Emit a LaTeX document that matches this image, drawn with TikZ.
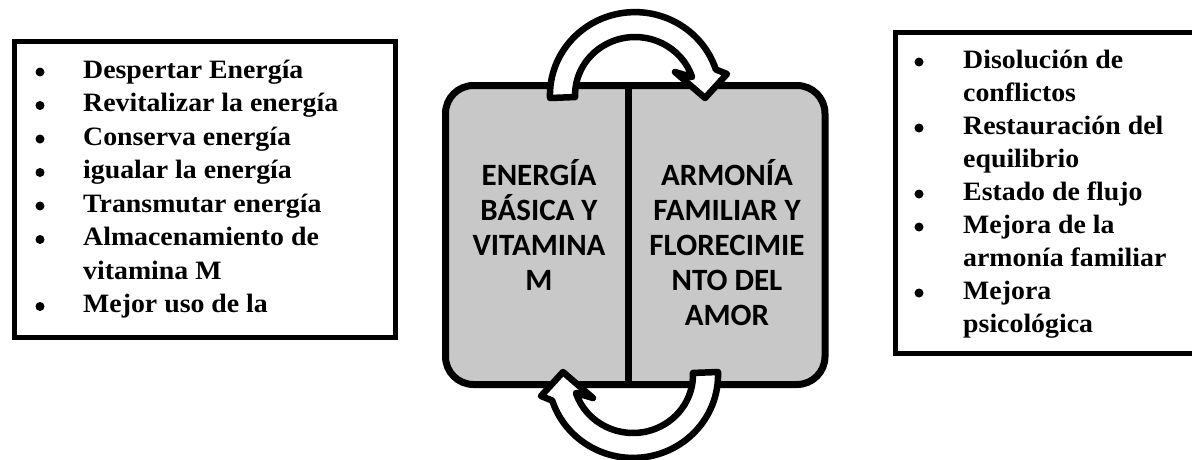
\documentclass[tikz,border=0pt]{standalone}
\usepackage{fontspec}
\setmainfont{Liberation Serif}
\newfontfamily\listfont[FakeStretch=1.05]{Liberation Serif}
\newfontfamily\corefont{Carlito}
\definecolor{boxgray}{RGB}{200,200,200}
\begin{document}
\begin{tikzpicture}[x=1pt,y=1pt,
  listbox/.style={draw=black, line width=5pt, fill=white, inner sep=0pt, anchor=north west},
  listtext/.style={font=\listfont\bfseries\fontsize{26.5}{30}\selectfont, anchor=base west, inner sep=0pt},
  bulletdot/.style={circle, fill=black, inner sep=0pt, minimum size=9pt},
  coretext/.style={font=\corefont\bfseries\fontsize{31}{35}\selectfont, anchor=base, inner sep=0pt},
  bandarrow/.style={draw=black, fill=white, line width=6.5pt, line join=round},
  corebox/.style={draw=black, line width=7pt, fill=boxgray, rounded corners=28pt, inner sep=0pt}]
\useasboundingbox (0,0) rectangle (1192,-459);
\clip (0,0) rectangle (1192,-459);

% left list box
\node[listbox, minimum width=381pt, minimum height=296pt] (leftbox) at (12,-39) {};
\foreach \yy [count=\i] in {78,111.5,145,178.5,212,245.5,312.5}
  \node[bulletdot] (lb\i) at (40,-\yy+6) {};
\node[listtext] (l1) at (83,-78) {Despertar Energía};
\node[listtext] (l2) at (83,-111.5) {Revitalizar la energía};
\node[listtext] (l3) at (83,-145) {Conserva energía};
\node[listtext] (l4) at (83,-178.5) {igualar la energía};
\node[listtext] (l5) at (83,-212) {Transmutar energía};
\node[listtext] (l6) at (83,-245.5) {Almacenamiento de};
\node[listtext] (l7) at (83,-279) {vitamina M};
\node[listtext] (l8) at (83,-312.5) {Mejor uso de la};

% right list box
\node[listbox, minimum width=310pt, minimum height=321pt] (rightbox) at (893,-30) {};
\foreach \yy [count=\i] in {68,134,200,233,299}
  \node[bulletdot] (rb\i) at (919,-\yy+6) {};
\node[listtext] (r1) at (963,-68) {Disolución de};
\node[listtext] (r2) at (963,-101) {conflictos};
\node[listtext] (r3) at (963,-134) {Restauración del};
\node[listtext] (r4) at (963,-167) {equilibrio};
\node[listtext] (r5) at (963,-200) {Estado de flujo};
\node[listtext] (r6) at (963,-233) {Mejora de la};
\node[listtext] (r7) at (963,-266) {armonía familiar};
\node[listtext] (r8) at (963,-299) {Mejora};
\node[listtext] (r9) at (963,-332) {psicológica};

% central box
\node[corebox, minimum width=379.5pt, minimum height=299pt] (core) at (635.25,-235) {};
\coordinate (divtop) at (628.5,-85.5);
\coordinate (divbot) at (628.5,-384.5);
\draw[line width=7pt] (divtop) -- (divbot);

\node[coretext] (c1) at (539,-185) {ENERGÍA};
\node[coretext] (c2) at (539,-220) {BÁSICA Y};
\node[coretext] (c3) at (539,-255) {VITAMINA};
\node[coretext] (c4) at (539,-290) {M};
\node[coretext] (d1) at (727,-185) {ARMONÍA};
\node[coretext] (d2) at (727,-220) {FAMILIAR Y};
\node[coretext] (d3) at (727,-255) {FLORECIMIE};
\node[coretext] (d4) at (727,-290) {NTO DEL};
\node[coretext] (d5) at (727,-325) {AMOR};

% curved arrows
\def\bandpath{(550,-98) arc[start angle=182, end angle=18, x radius=85, y radius=83]
  -- (727,-74) -- (705,-98) -- (675,-72) -- (692.1,-77.1)
  arc[start angle=18, end angle=182, x radius=60, y radius=58] -- cycle}
\draw[bandarrow] \bandpath;
\begin{scope}[rotate around={180:(634,-235)}]
  \draw[bandarrow] \bandpath;
\end{scope}
\end{tikzpicture}
\end{document}
